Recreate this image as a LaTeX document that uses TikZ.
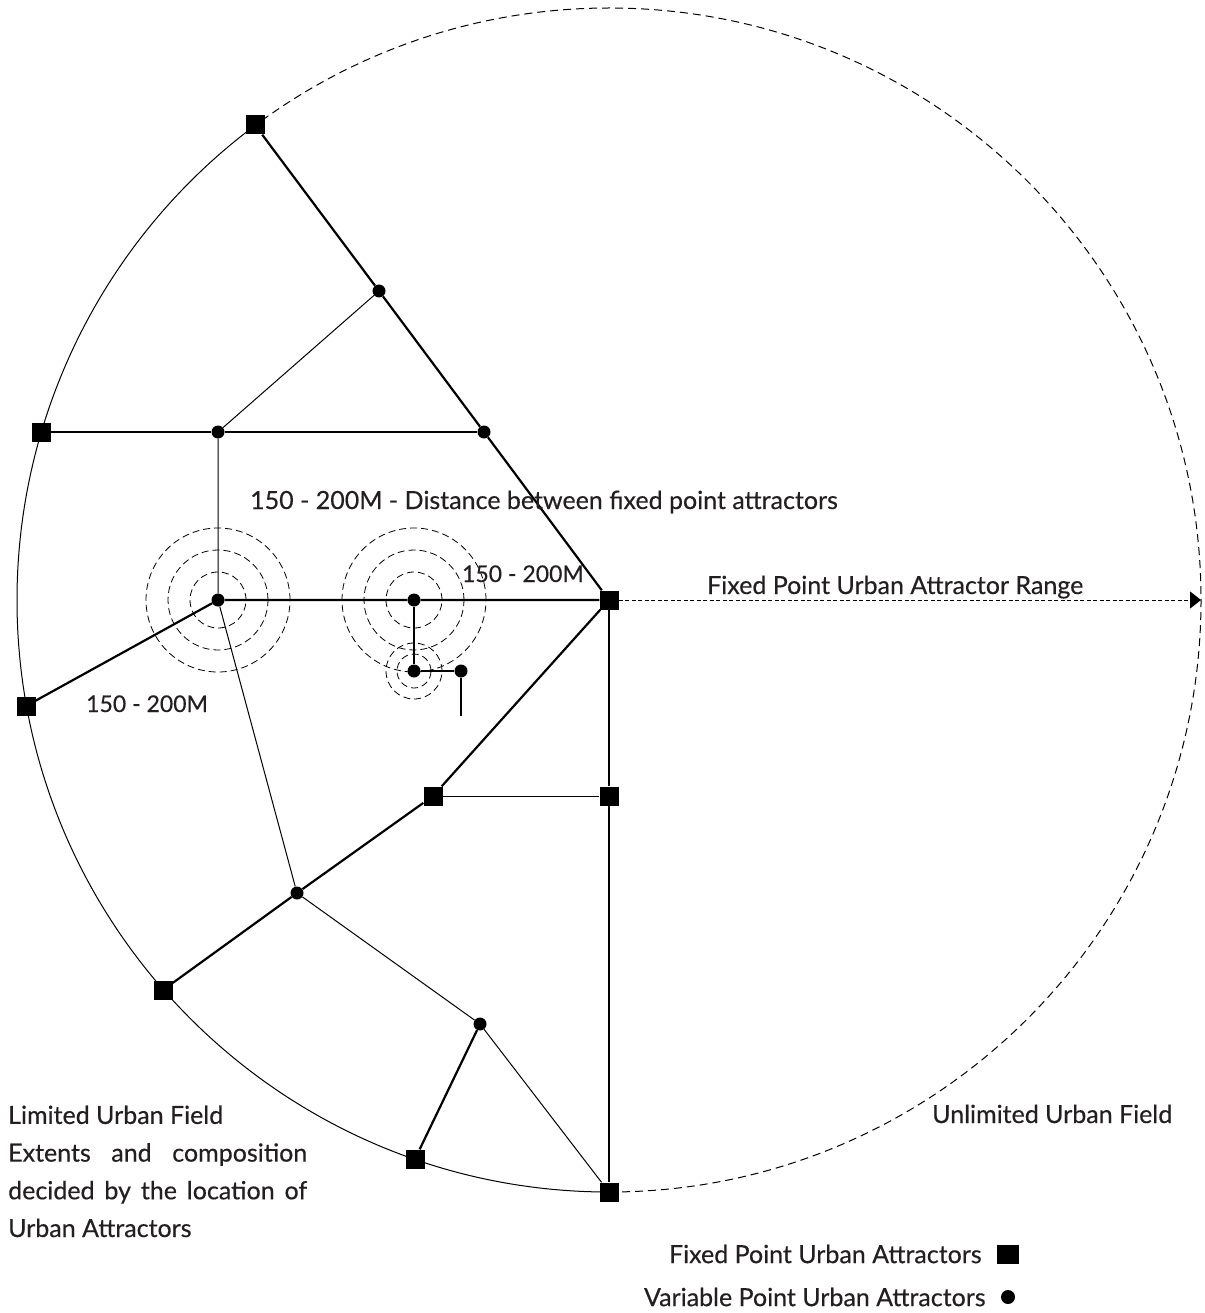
\documentclass[tikz,border=0pt]{standalone}
\usepackage{fontspec}
\setmainfont{Lato}
\newfontfamily\urbfont{Lato}[FakeBold=0.35]
\usetikzlibrary{arrows.meta,positioning}
\definecolor{ufInk}{HTML}{231F20}

\begin{document}
\begin{tikzpicture}[x=1pt,y=-1pt,font=\urbfont\fontsize{25}{37.7}\selectfont,
  fixd/.style={fill=black,minimum size=19pt,inner sep=0pt},
  vari/.style={circle,fill=black,minimum size=13pt,inner sep=0pt},
  heavy/.style={line width=2.2pt},
  light/.style={line width=1pt},
  ring/.style={line width=0.8pt,dash pattern=on 7pt off 4pt},
  lbl/.style={text=ufInk,inner sep=0pt,anchor=base west},
  span/.style={lbl,font=\urbfont\fontsize{23}{28}\selectfont}]
\useasboundingbox (0,0) rectangle (1204,1313);
\coordinate (ctr) at (609,600);
\coordinate (reach) at (1201,600);
\draw[light] (ctr) ++(0,592) arc[start angle=-90,end angle=-233.3,radius=592pt];
\draw[light,dash pattern=on 8pt off 5pt] (ctr) ++(0,592) arc[start angle=-90,end angle=126.7,radius=592pt];
\node[fixd] (f1) at (255,125) {};
\node[fixd] (f2) at (41,432) {};
\node[fixd] (f3) at (26,706) {};
\node[fixd] (f4) at (609,600) {};
\node[fixd] (f5) at (433,796) {};
\node[fixd] (f6) at (609,796) {};
\node[fixd] (f7) at (163,990) {};
\node[fixd] (f8) at (415,1159) {};
\node[fixd] (f9) at (609,1192) {};
\node[vari] (v1) at (379,291) {};
\node[vari] (v2) at (218,432) {};
\node[vari] (v3) at (484,432) {};
\node[vari] (v4) at (218,600) {};
\node[vari] (v5) at (414,600) {};
\node[vari] (v6) at (414,671) {};
\node[vari] (v7) at (461,671) {};
\node[vari] (v8) at (297,893) {};
\node[vari] (v9) at (480,1024) {};
\coordinate (stub) at (461,716);
\foreach \r in {28,50,72} {
  \draw[ring] (v4) circle[radius=\r pt];
  \draw[ring] (v5) circle[radius=\r pt];
}
\foreach \r in {17,28} \draw[ring] (v6) circle[radius=\r pt];
\draw[heavy] (f1) -- (v1) -- (v3) -- (f4);
\draw[heavy] (f2) -- (v2) -- (v3);
\draw[heavy] (f3) -- (v4) -- (v5) -- (f4);
\draw[heavy] (v5) -- (v6) -- (v7) -- (stub);
\draw[heavy] (f4) -- (f5) -- (v8) -- (f7);
\draw[heavy] (f4) -- (f6) -- (f9);
\draw[heavy] (f8) -- (v9);
\draw[light] (v2) -- (v1);
\draw[light] (v2) -- (v4) -- (v8) -- (v9) -- (f9);
\draw[light] (f5) -- (f6);
\draw[light,dash pattern=on 4pt off 2.5pt,-{Triangle[length=11pt,width=17pt]}] (f4) -- (reach);
\node[lbl] (gap) at (250,509) {150 - 200M - Distance between fixed point attractors};
\node[span,anchor=base east] (gapA) at (584,582) {150 - 200M};
\node[span] (gapB) at (86,712) {150 - 200M};
\node[lbl] (range) at (707,594) {Fixed Point Urban Attractor Range};
\node[lbl] (unlim) at (932,1123) {Unlimited Urban Field};
\node[lbl,align=left] (limit) at (8,1237) {Limited Urban Field\\
  \makebox[299pt][s]{Extents and composition}\\
  \makebox[299pt][s]{decided by the location of}\\
  Urban Attractors};
\node[fill=black,minimum width=22pt,minimum height=19pt,inner sep=0pt] (keyF) at (1008,1254) {};
\node[vari,minimum size=14pt] (keyV) at (1008,1297) {};
\node[text=ufInk,inner sep=0pt,left=15pt of keyF] (keyFtxt) {Fixed Point Urban Attractors};
\node[text=ufInk,inner sep=0pt,left=15pt of keyV] (keyVtxt) {Variable Point Urban Attractors};
\end{tikzpicture}
\end{document}
